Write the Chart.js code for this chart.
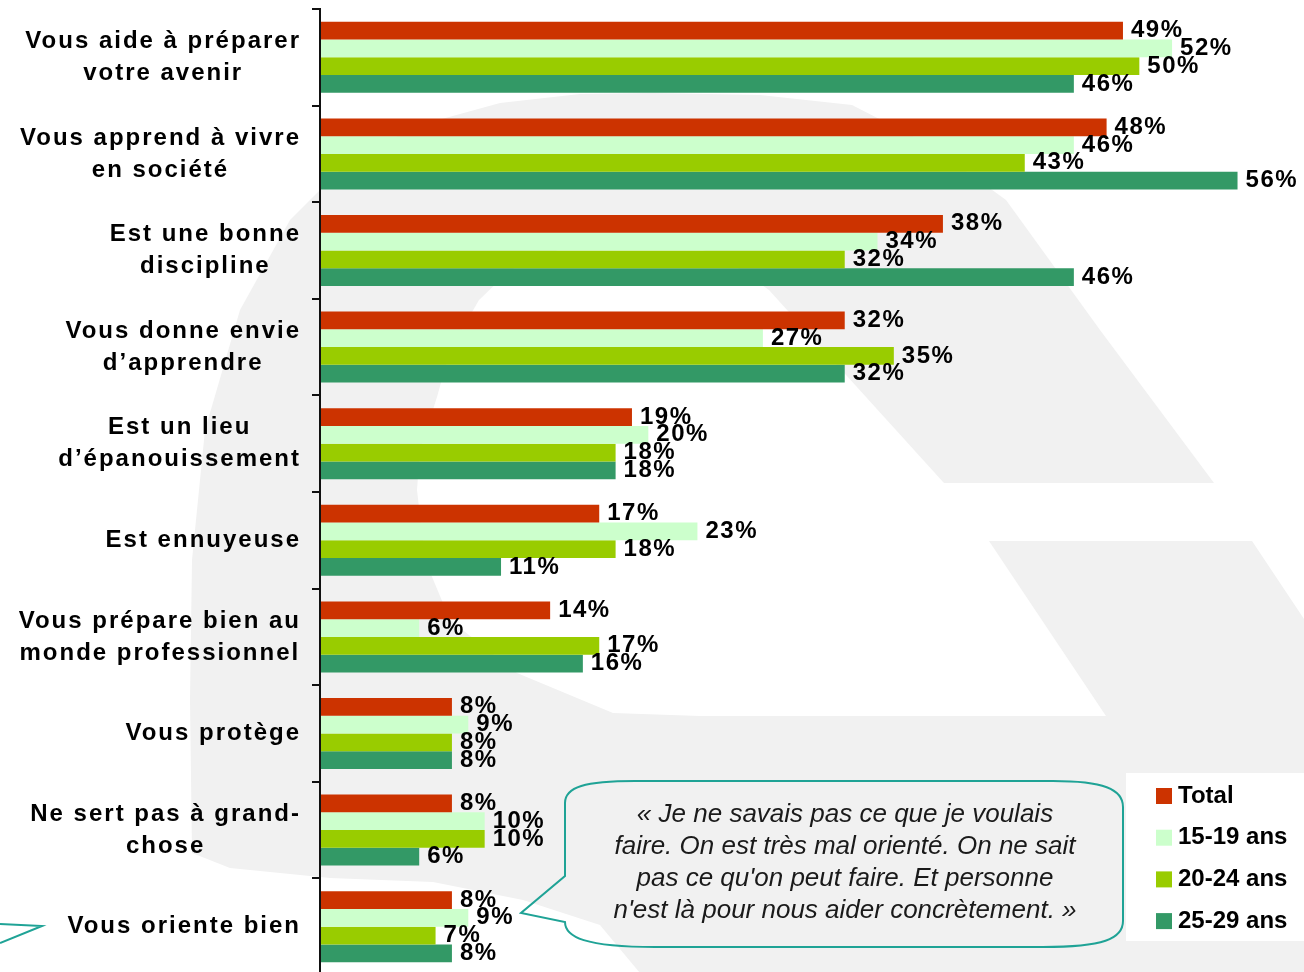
<!DOCTYPE html>
<html>
<head>
<meta charset="utf-8">
<script src="https://cdn.jsdelivr.net/npm/chart.js@4.4.0/dist/chart.umd.min.js"></script>
<style>
  html, body { margin: 0; padding: 0; overflow: hidden; background: #fff; }
  #wrap { width: 1304px; height: 985px; }
</style>
</head>
<body>
<div id="wrap"><canvas id="chart" width="1304" height="985"></canvas></div>
<script>
// categories, one array of lines each
var categories = [
  ["Vous aide à préparer", "votre avenir"],
  ["Vous apprend à vivre", "en société"],
  ["Est une bonne", "discipline"],
  ["Vous donne envie", "d\u2019apprendre"],
  ["Est un lieu", "d\u2019épanouissement"],
  ["Est ennuyeuse"],
  ["Vous prépare bien au", "monde professionnel"],
  ["Vous protège"],
  ["Ne sert pas à grand-", "chose"],
  ["Vous oriente bien"]
];
var seriesNames = ["Total", "15-19 ans", "20-24 ans", "25-29 ans"];
var total   = [49, 48, 38, 32, 19, 17, 14, 8, 8, 8];
var age1519 = [52, 46, 34, 27, 20, 23, 6, 9, 10, 9];
var age2024 = [50, 43, 32, 35, 18, 18, 17, 8, 10, 7];
var age2529 = [46, 56, 46, 32, 18, 11, 16, 8, 6, 8];
var colors = ["#cc3300", "#ccffcc", "#99cc00", "#339966"];
var xMax = 60;

var quote = [
  "\u00ab Je ne savais pas ce que je voulais",
  "faire. On est très mal orienté. On ne sait",
  "pas ce qu'on peut faire. Et personne",
  "n'est là pour nous aider concrètement. \u00bb"
];

var FONT = '"Liberation Sans", Arial, sans-serif';
var TEAL = "#1fa396";

// faint background logo
function drawWatermark(ctx) {
  var pts = [
    [192, 853], [190, 700], [192, 560], [205, 430], [240, 310], [290, 220],
    [350, 160], [420, 125], [500, 103], [580, 94], [652, 93], [760, 95],
    [852, 105], [930, 145], [1006, 200], [1100, 330], [1214, 483],
    [944, 483], [769, 290], [720, 255], [650, 235], [570, 245], [510, 270],
    [479, 300], [450, 350], [437, 397], [420, 450], [417, 490], [425, 560],
    [450, 620], [517, 673], [613, 713], [700, 716], [1106, 716],
    [989, 541], [1252, 541], [1304, 619], [1304, 985], [650, 985],
    [600, 925], [523, 900], [433, 882], [330, 878], [230, 868]
  ];
  ctx.save();
  ctx.fillStyle = "#f1f1f1";
  ctx.beginPath();
  ctx.moveTo(pts[0][0], pts[0][1]);
  for (var i = 1; i < pts.length; i++) ctx.lineTo(pts[i][0], pts[i][1]);
  ctx.closePath();
  ctx.fill();
  ctx.restore();
}

function drawBubble(ctx) {
  var l = 565, r = 1123, t = 781, b = 947;
  ctx.save();
  ctx.strokeStyle = TEAL;
  ctx.lineWidth = 2;
  ctx.beginPath();
  ctx.moveTo(l + 70, t);
  ctx.lineTo(r - 70, t);
  ctx.bezierCurveTo(r - 20, t, r, t + 8, r, t + 26);
  ctx.lineTo(r, b - 26);
  ctx.bezierCurveTo(r, b - 8, r - 20, b, r - 80, b);
  ctx.lineTo(l + 90, b);
  ctx.bezierCurveTo(l + 20, b, l, b - 10, l, b - 25);
  ctx.lineTo(521, 913);
  ctx.lineTo(l, 876);
  ctx.lineTo(l, t + 22);
  ctx.bezierCurveTo(l, t + 6, l + 20, t, l + 70, t);
  ctx.stroke();

  // tail of another bubble at the lower left
  ctx.beginPath();
  ctx.moveTo(0, 924);
  ctx.lineTo(42, 926);
  ctx.lineTo(0, 943);
  ctx.stroke();

  ctx.fillStyle = "#1a1a1a";
  ctx.font = "italic 26px " + FONT;
  ctx.textAlign = "center";
  ctx.textBaseline = "middle";
  for (var i = 0; i < quote.length; i++) {
    ctx.fillText(quote[i], 845, 815 + i * 32);
  }
  ctx.restore();
}

function drawLegend(chart) {
  var ctx = chart.ctx;
  ctx.save();
  ctx.fillStyle = "#ffffff";
  ctx.fillRect(1126, 773, 178, 168);
  ctx.font = "bold 24px " + FONT;
  ctx.textAlign = "left";
  ctx.textBaseline = "middle";
  chart.data.datasets.forEach(function (ds, i) {
    var y = 796 + i * 41.7;
    ctx.fillStyle = ds.backgroundColor;
    ctx.fillRect(1156, y - 8, 16, 16);
    ctx.fillStyle = "#000";
    ctx.fillText(ds.label, 1178, y);
  });
  ctx.restore();
}

var decor = {
  id: "decor",
  beforeDraw: function (chart) {
    var ctx = chart.ctx;
    ctx.save();
    ctx.fillStyle = "#ffffff";
    ctx.fillRect(0, 0, chart.width, chart.height);
    ctx.restore();
    drawWatermark(ctx);
  },
  afterDatasetsDraw: function (chart) {
    var ctx = chart.ctx;
    var ys = chart.scales.y;
    var area = chart.chartArea;
    var half = (ys.getPixelForValue(1) - ys.getPixelForValue(0)) / 2;
    var axisX = area.left - 1;

    ctx.save();
    // axis line and ticks between categories
    ctx.strokeStyle = "#111";
    ctx.lineWidth = 2;
    ctx.beginPath();
    ctx.moveTo(axisX, area.top - 1);
    ctx.lineTo(axisX, chart.height);
    for (var i = 0; i <= categories.length; i++) {
      var ty = Math.round(ys.getPixelForValue(i) - half);
      ctx.moveTo(axisX - 8, ty);
      ctx.lineTo(axisX, ty);
    }
    ctx.stroke();

    // category labels: block right-aligned, lines centred inside it
    ctx.fillStyle = "#000";
    ctx.font = "bold 24px " + FONT;
    ctx.letterSpacing = "2px";
    ctx.textAlign = "center";
    ctx.textBaseline = "middle";
    categories.forEach(function (lines, i) {
      var cy = ys.getPixelForValue(i);
      var maxW = 0;
      lines.forEach(function (s) { maxW = Math.max(maxW, ctx.measureText(s).width); });
      var cx = 301 - maxW / 2;
      var y0 = cy - (lines.length - 1) * 16;
      lines.forEach(function (s, k) { ctx.fillText(s, cx, y0 + k * 32); });
    });

    // value labels
    ctx.font = "bold 24px " + FONT;
    ctx.letterSpacing = "1.5px";
    ctx.textAlign = "left";
    chart.data.datasets.forEach(function (ds, d) {
      chart.getDatasetMeta(d).data.forEach(function (bar, i) {
        ctx.fillText(ds.data[i] + "%", bar.x + 8, bar.y);
      });
    });
    ctx.restore();
  },
  afterDraw: function (chart) {
    drawBubble(chart.ctx);
    drawLegend(chart);
  }
};

var seriesValues = [total, age1519, age2024, age2529];

new Chart(document.getElementById("chart").getContext("2d"), {
  type: "bar",
  data: {
    labels: categories,
    datasets: seriesNames.map(function (name, i) {
      return {
        label: name,
        data: seriesValues[i],
        backgroundColor: colors[i],
        borderWidth: 0,
        categoryPercentage: 0.735,
        barPercentage: 1.0
      };
    })
  },
  options: {
    indexAxis: "y",
    responsive: false,
    animation: false,
    devicePixelRatio: 1,
    layout: { padding: { left: 321, right: 1, top: 9, bottom: 10 } },
    scales: {
      x: { display: false, min: 0, max: xMax },
      y: { display: false }
    },
    plugins: {
      legend: { display: false },
      tooltip: { enabled: false }
    }
  },
  plugins: [decor]
});
</script>
</body>
</html>
